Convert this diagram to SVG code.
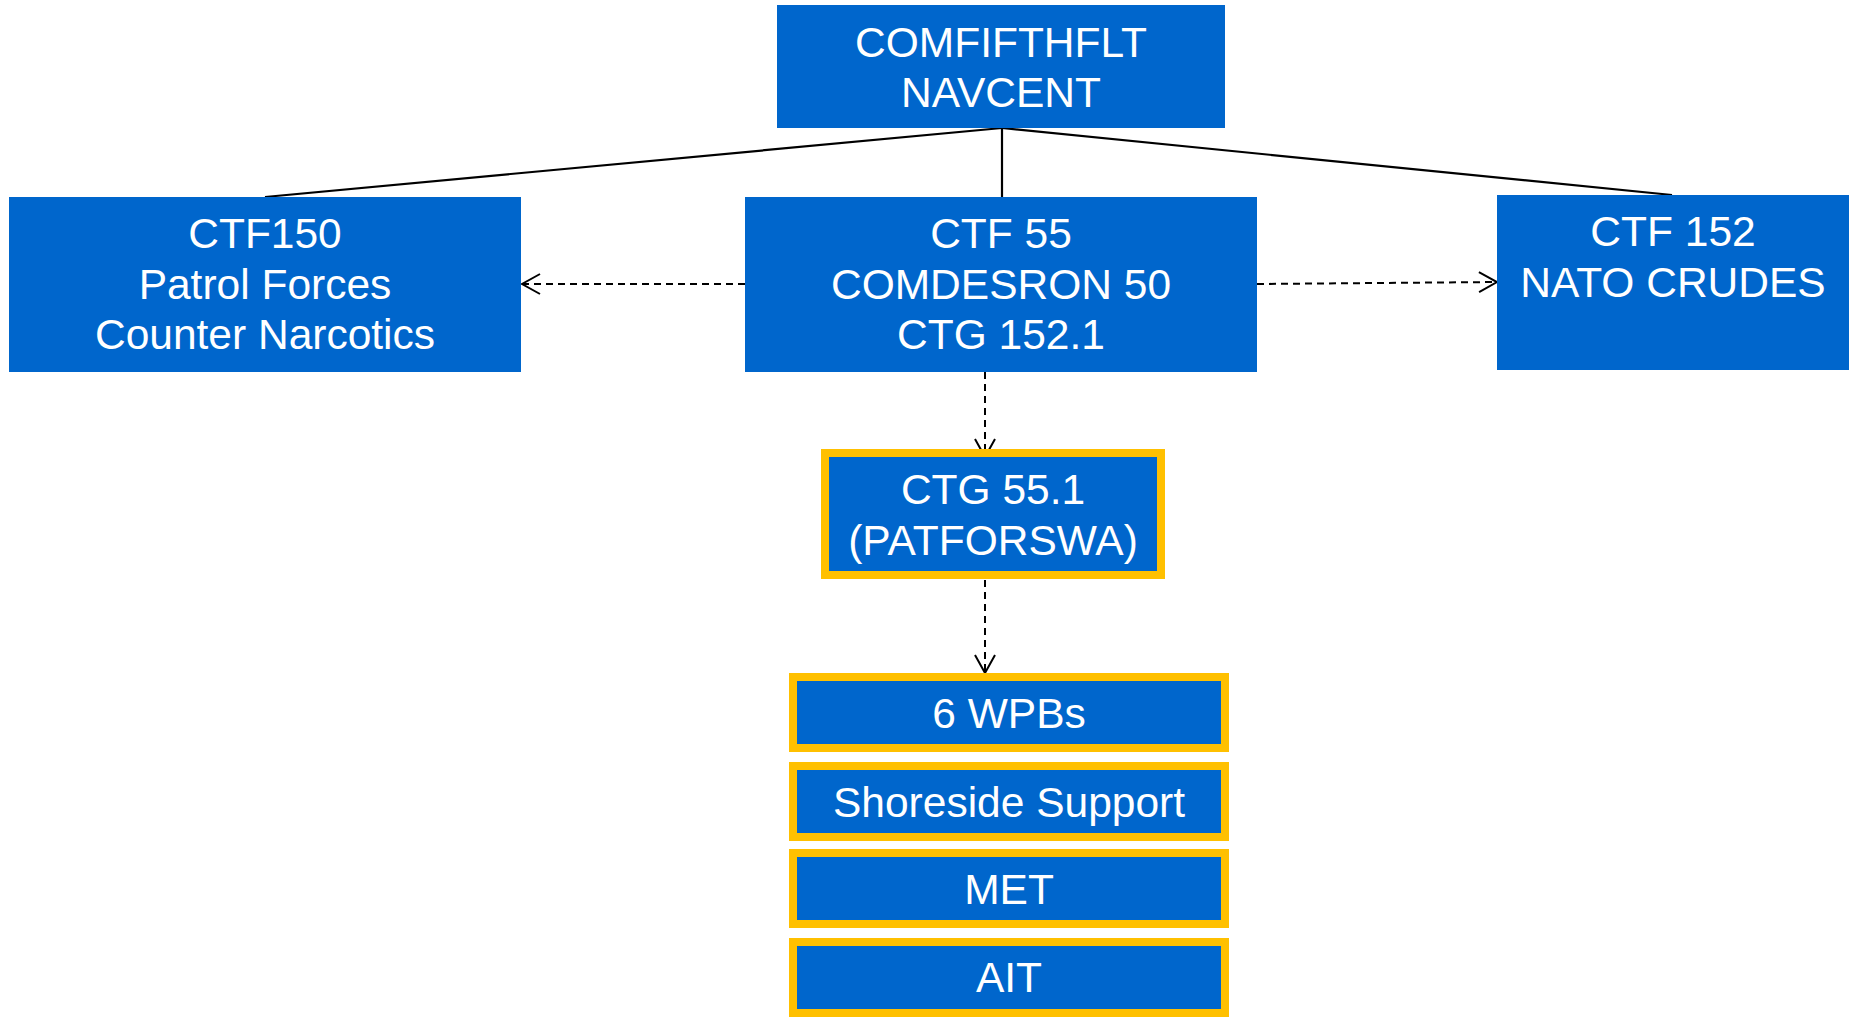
<svg xmlns="http://www.w3.org/2000/svg" width="1852" height="1018" viewBox="0 0 1852 1018">
<style>
.box{fill:#0066CC;}
.gold{fill:#0066CC;stroke:#FFC000;stroke-width:8;}
.t{font-family:"Liberation Sans",Arial,sans-serif;font-size:42.5px;fill:#FFFFFF;text-anchor:middle;}
.solid{stroke:#000;stroke-width:2.2;fill:none;}
.dash{stroke:#000;stroke-width:2;fill:none;stroke-dasharray:7 5;}
</style>
<defs>
<marker id="arr" markerUnits="userSpaceOnUse" markerWidth="22" markerHeight="24" refX="20" refY="12" orient="auto">
<path d="M2,2 L20,12 L2,22" fill="none" stroke="#000" stroke-width="2"/>
</marker>
</defs>
<g id="connectors">
<line class="solid" x1="1002" y1="128" x2="1002" y2="197"/>
<line class="solid" x1="1002" y1="128" x2="265" y2="197"/>
<line class="solid" x1="1002" y1="128" x2="1672" y2="195"/>
<line class="dash" x1="745" y1="284" x2="522" y2="284" marker-end="url(#arr)"/>
<line class="dash" x1="1257" y1="284" x2="1497" y2="282" marker-end="url(#arr)"/>
<line class="dash" x1="985" y1="372" x2="985" y2="457" marker-end="url(#arr)"/>
<line class="dash" x1="985" y1="580" x2="985" y2="673" marker-end="url(#arr)"/>
</g>
<g id="comfifthflt">
<rect class="box" x="777" y="5" width="448" height="123"/>
<text class="t" x="1001" y="57">COMFIFTHFLT</text>
<text class="t" x="1001" y="107">NAVCENT</text>
</g>
<g id="ctf150">
<rect class="box" x="9" y="197" width="512" height="175"/>
<text class="t" x="265" y="248">CTF150</text>
<text class="t" x="265" y="299">Patrol Forces</text>
<text class="t" x="265" y="349">Counter Narcotics</text>
</g>
<g id="ctf55">
<rect class="box" x="745" y="197" width="512" height="175"/>
<text class="t" x="1001" y="248">CTF 55</text>
<text class="t" x="1001" y="299">COMDESRON 50</text>
<text class="t" x="1001" y="349">CTG 152.1</text>
</g>
<g id="ctf152">
<rect class="box" x="1497" y="195" width="352" height="175"/>
<text class="t" x="1673" y="246">CTF 152</text>
<text class="t" x="1673" y="297">NATO CRUDES</text>
</g>
<g id="ctg551">
<rect class="gold" x="825" y="453" width="336" height="122"/>
<text class="t" x="993" y="504">CTG 55.1</text>
<text class="t" x="993" y="555">(PATFORSWA)</text>
</g>
<g id="wpbs">
<rect class="gold" x="793" y="677" width="432" height="71"/>
<text class="t" x="1009" y="728">6 WPBs</text>
</g>
<g id="shoreside">
<rect class="gold" x="793" y="766" width="432" height="71"/>
<text class="t" x="1009" y="817">Shoreside Support</text>
</g>
<g id="met">
<rect class="gold" x="793" y="853" width="432" height="71"/>
<text class="t" x="1009" y="904">MET</text>
</g>
<g id="ait">
<rect class="gold" x="793" y="942" width="432" height="71"/>
<text class="t" x="1009" y="992">AIT</text>
</g>
</svg>
